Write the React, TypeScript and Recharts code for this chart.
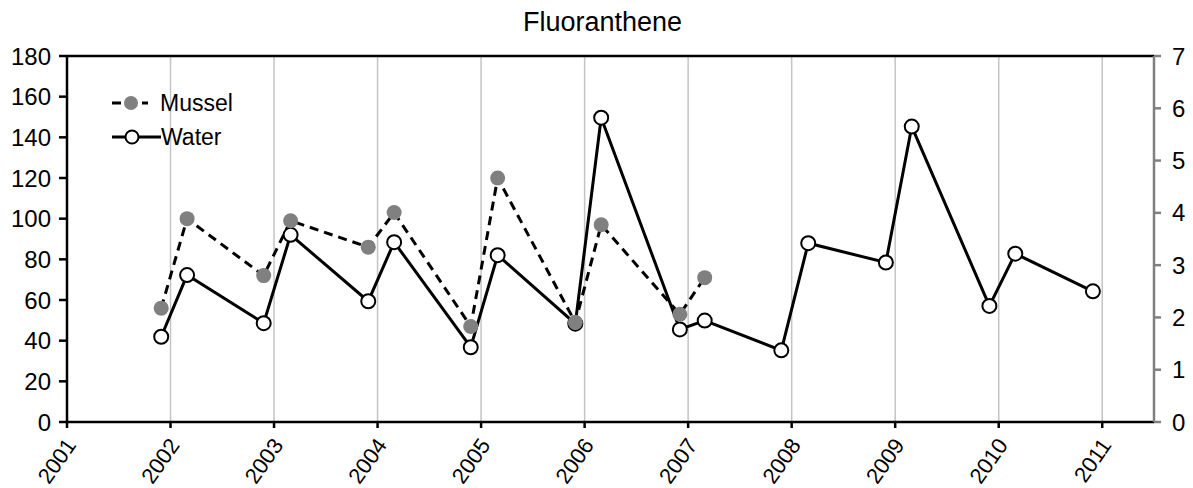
import React from 'react';
import {
  LineChart,
  Line,
  XAxis,
  YAxis,
  CartesianGrid,
  ReferenceLine,
} from 'recharts';

// Sampling dates (fractional years): December and March campaigns
const sampleDates = [
  2001.91, 2002.16, 2002.9, 2003.16, 2003.91, 2004.16, 2004.9, 2005.16, 2005.91, 2006.16,
  2006.92, 2007.16, 2007.9, 2008.16, 2008.91, 2009.16, 2009.91, 2010.16, 2010.91,
];

// Mussel concentrations (left axis)
const musselValues = [56, 100, 72, 99, 86, 103, 47, 120, 49, 97, 53, 71];

// Water concentrations (right axis)
const waterValues = [
  1.63, 2.81, 1.89, 3.58, 2.31, 3.44, 1.43, 3.19, 1.88, 5.82, 1.77, 1.94, 1.37, 3.42, 3.05,
  5.65, 2.22, 3.22, 2.5,
];

const yearTicks = [2001, 2002, 2003, 2004, 2005, 2006, 2007, 2008, 2009, 2010, 2011];
const leftTicks = [0, 20, 40, 60, 80, 100, 120, 140, 160, 180];
const rightTicks = [0, 1, 2, 3, 4, 5, 6, 7];

const musselData = musselValues.map((v, i) => ({ t: sampleDates[i], mussel: v }));
const waterData = waterValues.map((v, i) => ({ t: sampleDates[i], water: v }));

const FONT = '"Liberation Sans", Arial, sans-serif';
const TICK_FONT = 24;

const YearTick = (props: any) => {
  const { x, y, payload } = props;
  return (
    <g transform={`translate(${x - 3},${y + 6})`}>
      <text
        x={0}
        y={0}
        textAnchor="end"
        dominantBaseline="hanging"
        transform="rotate(-55)"
        fontSize={22}
        fontFamily={FONT}
        fill="#000"
      >
        {payload.value}
      </text>
    </g>
  );
};

// Legend drawn as an overlay so it does not shrink the plot area
const LegendBox = () => (
  <div
    style={{
      position: 'absolute',
      left: 112,
      top: 86,
      fontFamily: FONT,
      fontSize: 23,
      color: '#000',
      lineHeight: '34px',
    }}
  >
    <div style={{ display: 'flex', alignItems: 'center', height: 34 }}>
      <svg width={48} height={20}>
        <line x1={0} y1={10} x2={36} y2={10} stroke="#000" strokeWidth={3} strokeDasharray="9 6" />
        <circle cx={19} cy={10} r={7} fill="#808080" />
      </svg>
      <span>Mussel</span>
    </div>
    <div style={{ display: 'flex', alignItems: 'center', height: 34 }}>
      <svg width={49} height={20}>
        <line x1={0} y1={10} x2={49} y2={10} stroke="#000" strokeWidth={3} />
        <circle cx={20} cy={10} r={6.5} fill="#fff" stroke="#000" strokeWidth={2} />
      </svg>
      <span>Water</span>
    </div>
  </div>
);

export default function App() {
  return (
    <div style={{ position: 'absolute', left: 0, top: 0, width: 1193, height: 488, background: '#fff' }}>
      <div
        style={{
          position: 'absolute',
          left: 0,
          width: 1205,
          top: 7,
          textAlign: 'center',
          fontFamily: FONT,
          fontSize: 27,
          lineHeight: '30px',
          color: '#000',
        }}
      >
        Fluoranthene
      </div>
      <LineChart
        width={1193}
        height={488}
        margin={{ top: 56, right: 0, bottom: 0, left: 0 }}
      >
        <CartesianGrid vertical horizontal={false} stroke="#c4c4c4" strokeWidth={1.5} yAxisId="left" />
        <XAxis
          dataKey="t"
          type="number"
          domain={[2001, 2011.5]}
          ticks={yearTicks}
          allowDataOverflow
          height={66}
          stroke="#000"
          strokeWidth={2.5}
          tickSize={6}
          tickMargin={2}
          tick={<YearTick />}
        />
        <YAxis
          yAxisId="left"
          domain={[0, 180]}
          ticks={leftTicks}
          width={67}
          stroke="#000"
          strokeWidth={2.5}
          tickSize={8}
          tickMargin={8}
          tick={{ fontSize: TICK_FONT, fill: '#000', fontFamily: FONT }}
        />
        <YAxis
          yAxisId="right"
          orientation="right"
          domain={[0, 7]}
          ticks={rightTicks}
          width={39}
          stroke="#808080"
          strokeWidth={2.5}
          tickSize={7}
          tickMargin={11}
          tick={{ fontSize: TICK_FONT, fill: '#000', fontFamily: FONT }}
        />
        <ReferenceLine yAxisId="left" y={180} stroke="#000" strokeWidth={2.5} />
        <Line
          data={waterData}
          yAxisId="right"
          dataKey="water"
          name="Water"
          stroke="#000"
          strokeWidth={3}
          dot={{ r: 7, fill: '#fff', stroke: '#000', strokeWidth: 2 }}
          activeDot={false}
          isAnimationActive={false}
        />
        <Line
          data={musselData}
          yAxisId="left"
          dataKey="mussel"
          name="Mussel"
          stroke="#000"
          strokeWidth={3}
          strokeDasharray="9 6"
          dot={{ r: 7.5, fill: '#808080', stroke: 'none' }}
          activeDot={false}
          isAnimationActive={false}
        />
      </LineChart>
      <LegendBox />
    </div>
  );
}
